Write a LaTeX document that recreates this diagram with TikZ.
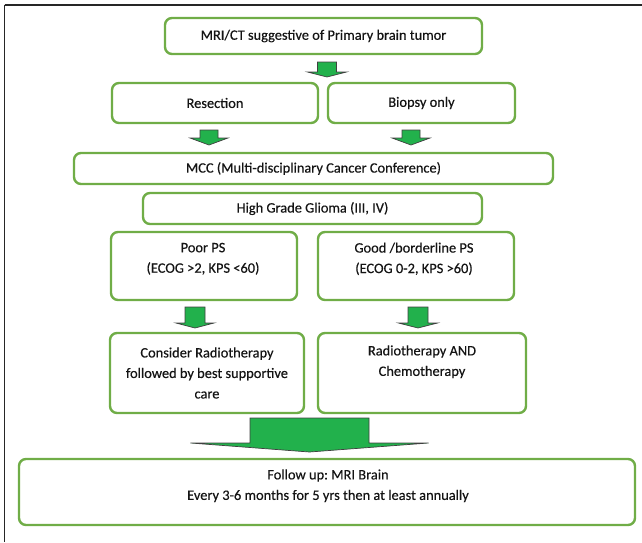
\documentclass[tikz,border=0pt]{standalone}
\usepackage{fontspec}
\setmainfont{Carlito}[RawFeature={embolden=0.35}]
\usetikzlibrary{calc}
\definecolor{boxgreen}{RGB}{112,173,71}
\definecolor{arrowgreen}{RGB}{34,177,76}
\definecolor{txt}{RGB}{20,20,20}
\tikzset{
  box/.style={draw=boxgreen, line width=2.4pt, rounded corners=7pt, fill=white, inner sep=0pt},
  lbl/.style={text=txt, font=\fontsize{14.4}{20.5}\selectfont\frenchspacing, align=center, inner sep=0pt},
  arrowsty/.style={fill=arrowgreen, draw=black!75, line width=0.7pt, line join=miter},
  pics/darrow/.style n args={4}{code={
    \path[arrowsty] (-#1/2,0) -- (#1/2,0) -- (#1/2,#3) -- (#2/2,#3) -- (0,#3+#4) -- (-#2/2,#3) -- (-#1/2,#3) -- cycle;
  }}
}
\begin{document}
\begin{tikzpicture}[x=1pt,y=-1pt]
\useasboundingbox (0,0) rectangle (642,542);
% frame
\draw[line width=2pt, black!85] (4.5,4.5) -- (642,4.5);
\draw[line width=1.3pt, black!85] (4.5,4.5) -- (4.5,542);
% boxes
\node[box, lbl, minimum width=317pt, minimum height=36pt] (mri) at (323.5,36) {MRI/CT suggestive of Primary brain tumor};
\node[box, lbl, minimum width=206pt, minimum height=40pt] (res) at (215,103) {Resection};
\node[box, lbl, minimum width=187pt, minimum height=40pt] (bio) at (421.5,103) {Biopsy only};
\node[box, lbl, minimum width=479pt, minimum height=31pt] (mcc) at (313.5,168.5) {MCC (Multi-disciplinary Cancer Conference)};
\node[box, lbl, minimum width=339pt, minimum height=31pt] (hgg) at (312.5,208.5) {High Grade Glioma (III, IV)};
\node[box, minimum width=186pt, minimum height=68pt] (poor) at (204,266) {};
\node[box, minimum width=196pt, minimum height=68pt] (good) at (416,266) {};
\node[box, lbl, minimum width=194pt, minimum height=80pt] (cons) at (207,373) {Consider Radiotherapy\\followed by best supportive\\care};
\node[box, minimum width=208pt, minimum height=80pt] (radio) at (422,373) {};
\node[box, minimum width=616pt, minimum height=66pt] (fu) at (327,492) {};
% texts placed in upper part of boxes
\node[lbl] (poortxt) at ($(poor.north)+(-1,28)$) {Poor PS\\(ECOG >2, KPS <60)};
\node[lbl] (goodtxt) at ($(good.north)+(-2,28)$) {Good /borderline PS\\(ECOG 0-2, KPS >60)};
\node[lbl] (radiotxt) at ($(radio.north)+(0,30)$) {Radiotherapy AND\\Chemotherapy};
\node[lbl] (futxt) at ($(fu.north)+(1,28)$) {Follow up: MRI Brain\\Every 3-6 months for 5 yrs then at least annually};
% block arrows
\pic at (327,62) {darrow={19}{39}{10}{5}};
\pic at (209,130) {darrow={18}{38}{8}{7}};
\pic at (411,130) {darrow={18}{38}{8}{7}};
\pic at (195,307) {darrow={20}{38}{16}{5}};
\pic at (418,307) {darrow={20}{39}{16}{5}};
\pic at (309.5,418) {darrow={119}{238}{25}{9}};
\end{tikzpicture}
\end{document}
